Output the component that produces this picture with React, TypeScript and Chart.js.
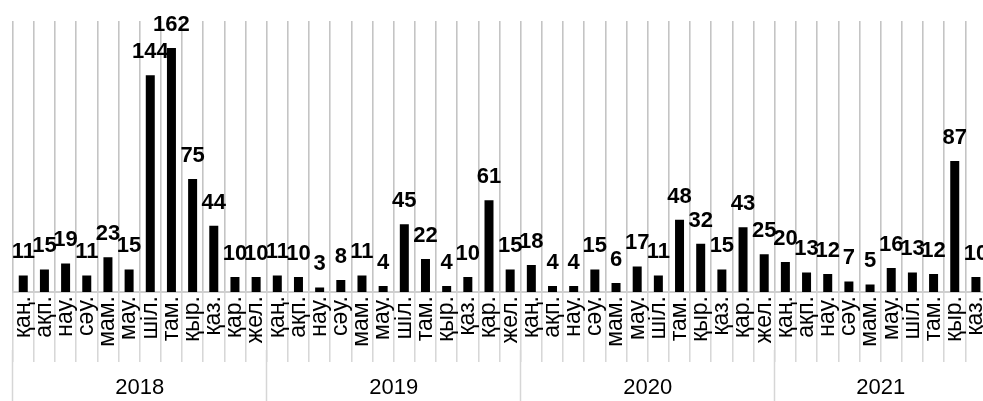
import React, { useEffect, useRef } from "react";
import { Chart, registerables } from "chart.js";

Chart.register(...registerables);

const years = ["2018", "2019", "2020", "2021"];
const monthLabels = ["қаң.", "ақп.", "нау.", "сәу.", "мам.", "мау.", "шіл.", "там.", "қыр.", "қаз.", "қар.", "жел."];
const values2018 = [11, 15, 19, 11, 23, 15, 144, 162, 75, 44, 10, 10];
const values2019 = [11, 10, 3, 8, 11, 4, 45, 22, 4, 10, 61, 15];
const values2020 = [18, 4, 4, 15, 6, 17, 11, 48, 32, 15, 43, 25];
const values2021 = [20, 13, 12, 7, 5, 16, 13, 12, 87, 10];

const seriesByYear = [values2018, values2019, values2020, values2021];

const FONT = "'Liberation Sans', Arial, sans-serif";

export default function App() {
  const ref = useRef<HTMLCanvasElement | null>(null);

  useEffect(() => {
    if (!ref.current) return;
    const labels: string[] = [];
    const values: number[] = [];
    // half-category grid for the year axis: slot j sits at month index (j - 1) / 2
    const boundarySlots: number[] = [0];
    const centerSlots: number[] = [];
    let idx = 0;
    seriesByYear.forEach((vals) => {
      const start = idx;
      vals.forEach((v, i) => {
        labels.push(monthLabels[i]);
        values.push(v);
        idx++;
      });
      centerSlots.push(start + idx);
      boundarySlots.push(2 * idx);
    });
    const n = labels.length;
    const yearSlots: string[] = [];
    for (let j = 0; j <= 2 * n; j++) {
      const k = centerSlots.indexOf(j);
      yearSlots.push(k >= 0 ? years[k] : "");
    }

    const valueLabels = {
      id: "valueLabels",
      afterDatasetsDraw(chart: any) {
        const ctx = chart.ctx;
        const meta = chart.getDatasetMeta(0);
        ctx.save();
        ctx.font = `bold 22px ${FONT}`;
        ctx.fillStyle = "#000";
        ctx.textAlign = "center";
        ctx.textBaseline = "alphabetic";
        meta.data.forEach((el: any, i: number) => {
          ctx.fillText(String(values[i]), el.x, el.y - 17);
        });
        ctx.restore();
      },
    };

    const zeroPad = (h: number) => (scale: any) => {
      scale.paddingLeft = 0;
      scale.paddingRight = 0;
      scale.paddingTop = 0;
      scale.paddingBottom = 0;
      scale.height = h;
    };

    const chart = new Chart(ref.current, {
      type: "bar",
      data: {
        labels,
        datasets: [
          {
            data: values,
            backgroundColor: "#000",
            borderWidth: 0,
            barPercentage: 0.425,
            categoryPercentage: 1,
          },
        ],
      },
      plugins: [valueLabels],
      options: {
        animation: false,
        responsive: true,
        maintainAspectRatio: false,
        layout: { padding: { top: 21, left: 12.67, right: 23.5, bottom: 0 } },
        plugins: {
          legend: { display: false },
          tooltip: { enabled: false },
        },
        scales: {
          y: { display: false, min: 0, max: 180 },
          x: {
            position: "bottom",
            offset: true,
            afterFit: zeroPad(58),
            grid: {
              display: true,
              offset: true,
              color: "#c4c4c4",
              lineWidth: 1.6,
              drawTicks: true,
              tickLength: 70,
              tickColor: "#d6d6d6",
              tickWidth: 1.5,
            },
            border: { display: true, color: "#cfcfcf", width: 2 },
            ticks: {
              autoSkip: false,
              minRotation: 90,
              maxRotation: 90,
              padding: -66,
              color: "#000",
              font: { family: FONT, size: 23 },
            },
          },
          x2: {
            type: "category",
            labels: yearSlots,
            position: "bottom",
            offset: false,
            afterFit: zeroPad(51),
            grid: {
              drawOnChartArea: false,
              offset: false,
              drawTicks: true,
              tickLength: 70,
              tickWidth: 1.5,
              tickColor: (c: any) =>
                boundarySlots.includes(c.index) ? "#d6d6d6" : "rgba(0,0,0,0)",
            },
            border: { display: false },
            ticks: {
              autoSkip: false,
              maxRotation: 0,
              minRotation: 0,
              padding: -45,
              color: "#000",
              font: { family: FONT, size: 22 },
            },
          },
        },
      },
    });
    return () => chart.destroy();
  }, []);

  return (
    <div
      style={{
        position: "fixed",
        left: 0,
        top: 0,
        width: 983,
        height: 401,
        overflow: "hidden",
        background: "#fff",
      }}
    >
      <div style={{ position: "relative", width: 1010, height: 401 }}>
        <canvas ref={ref} />
      </div>
    </div>
  );
}
